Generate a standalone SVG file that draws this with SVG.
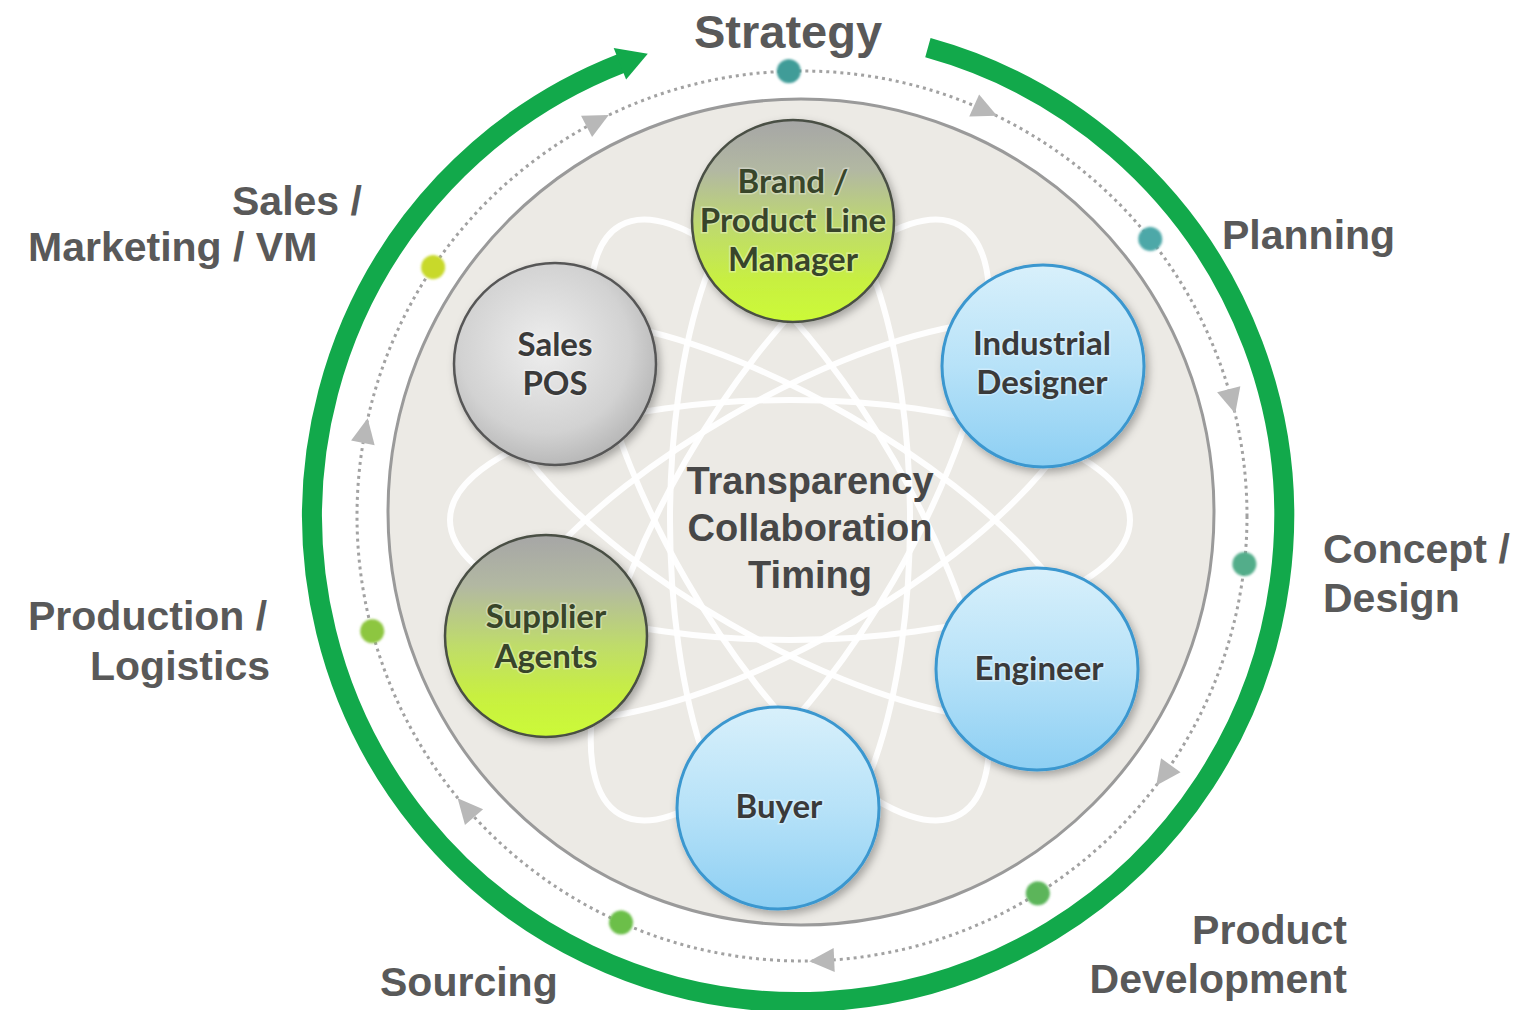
<svg xmlns="http://www.w3.org/2000/svg" width="1516" height="1010" viewBox="0 0 1516 1010">
  <style>
    .label { font-family: "Liberation Sans", Arial, sans-serif; font-weight: bold; font-size: 41px; fill: #595959; }
    .hub { font-family: "Liberation Sans", Arial, sans-serif; font-weight: bold; font-size: 38px; fill: #474747; text-anchor: middle; }
    .ntext { font-family: Lato, "Open Sans", sans-serif; font-weight: bold; font-size: 33px; fill: #3a3a3a; text-anchor: middle; stroke: #ffffff; stroke-opacity: 0.35; stroke-width: 3; paint-order: stroke; }
    .ntext.g { fill: #38452a; }
    .orbit { fill: none; stroke: #ffffff; stroke-width: 6; opacity: 0.95; }
    .node-grey { fill: url(#gGrey); stroke: #575757; stroke-width: 2.5; filter: url(#shadow); }
    .node-green { fill: url(#gGreen); stroke: #4a4f44; stroke-width: 2.5; filter: url(#shadow); }
    .node-blue { fill: url(#gBlue); stroke: #3b97cf; stroke-width: 3; filter: url(#shadow); }
    .cycle-dot { stroke: none; filter: url(#soft); }
    .cycle-arrow { fill: #b8b8b8; }
  </style>
  <defs>
    <radialGradient id="gGrey" cx="0.45" cy="0.42" r="0.6">
      <stop offset="0" stop-color="#eeeeee"/>
      <stop offset="0.7" stop-color="#d2d2d2"/>
      <stop offset="1" stop-color="#b6b6b6"/>
    </radialGradient>
    <linearGradient id="gGreen" x1="0" y1="0" x2="0" y2="1">
      <stop offset="0" stop-color="#a6a6a6"/>
      <stop offset="0.25" stop-color="#b2b8a2"/>
      <stop offset="0.55" stop-color="#bfdc6a"/>
      <stop offset="0.8" stop-color="#c8f040"/>
      <stop offset="1" stop-color="#ccfa38"/>
    </linearGradient>
    <linearGradient id="gBlue" x1="0" y1="0" x2="0" y2="1">
      <stop offset="0" stop-color="#d8f0fb"/>
      <stop offset="0.5" stop-color="#b7e2f8"/>
      <stop offset="1" stop-color="#8dcff3"/>
    </linearGradient>
    <filter id="shadow" x="-20%" y="-20%" width="150%" height="150%">
      <feDropShadow dx="3" dy="4" stdDeviation="4" flood-color="#000000" flood-opacity="0.3"/>
    </filter>
    <filter id="soft" x="-50%" y="-50%" width="200%" height="200%">
      <feGaussianBlur stdDeviation="0.8"/>
    </filter>
    <path id="tri" d="M 13 0 L -12 -12 L -12 12 Z"/>
  </defs>

  <rect width="1516" height="1010" fill="#ffffff"/>

  <!-- inner stage -->
  <g id="stage">
    <circle cx="801" cy="512" r="413" fill="#eceae5" stroke="#9a9a9a" stroke-width="3"/>
    <g id="orbits">
      <ellipse class="orbit" cx="790" cy="520" rx="340" ry="120"/>
      <ellipse class="orbit" cx="790" cy="520" rx="340" ry="120" transform="rotate(30 790 520)"/>
      <ellipse class="orbit" cx="790" cy="520" rx="340" ry="120" transform="rotate(60 790 520)"/>
      <ellipse class="orbit" cx="790" cy="520" rx="340" ry="120" transform="rotate(90 790 520)"/>
      <ellipse class="orbit" cx="790" cy="520" rx="340" ry="120" transform="rotate(120 790 520)"/>
      <ellipse class="orbit" cx="790" cy="520" rx="340" ry="120" transform="rotate(150 790 520)"/>
    </g>
    <g id="hub">
      <text class="hub" x="810" y="494">Transparency</text>
      <text class="hub" x="810" y="541">Collaboration</text>
      <text class="hub" x="810" y="588">Timing</text>
    </g>
  </g>

  <!-- connectors: outer cycle arrow and dotted process ring -->
  <g id="connectors">
    <path d="M 927.9 47.7 A 486 486 0 1 1 621 63.5" fill="none" stroke="#12a94b" stroke-width="20"/>
    <polygon points="613.7,48 647.8,53.8 626.1,79.6" fill="#12a94b"/>
    <circle cx="802" cy="516" r="445" fill="none" stroke="#a2a2a2" stroke-width="3" stroke-dasharray="3 4"/>
    <use href="#tri" class="cycle-arrow" transform="rotate(-27.4 802 516) translate(802 71)"/>
    <use href="#tri" class="cycle-arrow" transform="rotate(24.3 802 516) translate(802 71)"/>
    <use href="#tri" class="cycle-arrow" transform="rotate(75 802 516) translate(802 71)"/>
    <use href="#tri" class="cycle-arrow" transform="rotate(125.6 802 516) translate(802 71)"/>
    <use href="#tri" class="cycle-arrow" transform="rotate(177.4 802 516) translate(802 71)"/>
    <use href="#tri" class="cycle-arrow" transform="rotate(229 802 516) translate(802 71)"/>
    <use href="#tri" class="cycle-arrow" transform="rotate(281 802 516) translate(802 71)"/>
  </g>

  <!-- stage markers on the process ring -->
  <g id="stage-dots">
    <circle class="cycle-dot" cx="0" cy="0" r="12" fill="#3f9c98" transform="rotate(-1.7 802 516) translate(802 71)"/>
    <circle class="cycle-dot" cx="0" cy="0" r="12" fill="#4da8a8" transform="rotate(51.5 802 516) translate(802 71)"/>
    <circle class="cycle-dot" cx="0" cy="0" r="12" fill="#52ad8a" transform="rotate(96.2 802 516) translate(802 71)"/>
    <circle class="cycle-dot" cx="0" cy="0" r="12" fill="#5bb55a" transform="rotate(148 802 516) translate(802 71)"/>
    <circle class="cycle-dot" cx="0" cy="0" r="12" fill="#6cbf4a" transform="rotate(204 802 516) translate(802 71)"/>
    <circle class="cycle-dot" cx="0" cy="0" r="12" fill="#8dc641" transform="rotate(255 802 516) translate(802 71)"/>
    <circle class="cycle-dot" cx="0" cy="0" r="12" fill="#c8d92c" transform="rotate(304 802 516) translate(802 71)"/>
  </g>

  <!-- stage labels -->
  <g id="labels">
    <text class="label" x="788" y="48" text-anchor="middle" style="font-size:47px">Strategy</text>
    <text class="label" x="1222" y="249">Planning</text>
    <text class="label" x="1323" y="563">Concept /</text>
    <text class="label" x="1323" y="612">Design</text>
    <text class="label" x="1347" y="944" text-anchor="end">Product</text>
    <text class="label" x="1347" y="993" text-anchor="end">Development</text>
    <text class="label" x="380" y="996">Sourcing</text>
    <text class="label" x="28" y="630">Production /</text>
    <text class="label" x="270" y="680" text-anchor="end">Logistics</text>
    <text class="label" x="232" y="215">Sales /</text>
    <text class="label" x="28" y="261">Marketing / VM</text>
  </g>

  <!-- role nodes -->
  <g id="node-brand">
    <circle class="node-green" cx="793" cy="221" r="101"/>
    <text class="ntext g" x="793" y="193">Brand /</text>
    <text class="ntext g" x="793" y="232">Product Line</text>
    <text class="ntext g" x="793" y="271">Manager</text>
  </g>
  <g id="node-sales">
    <circle class="node-grey" cx="555" cy="364" r="101"/>
    <text class="ntext" x="555" y="356">Sales</text>
    <text class="ntext" x="555" y="395">POS</text>
  </g>
  <g id="node-industrial">
    <circle class="node-blue" cx="1043" cy="366" r="101"/>
    <text class="ntext" x="1042" y="355">Industrial</text>
    <text class="ntext" x="1042" y="394">Designer</text>
  </g>
  <g id="node-engineer">
    <circle class="node-blue" cx="1037" cy="669" r="101"/>
    <text class="ntext" x="1039" y="680">Engineer</text>
  </g>
  <g id="node-buyer">
    <circle class="node-blue" cx="778" cy="808" r="101"/>
    <text class="ntext" x="779" y="818">Buyer</text>
  </g>
  <g id="node-supplier">
    <circle class="node-green" cx="546" cy="636" r="101"/>
    <text class="ntext g" x="546" y="628">Supplier</text>
    <text class="ntext g" x="546" y="668">Agents</text>
  </g>
</svg>
